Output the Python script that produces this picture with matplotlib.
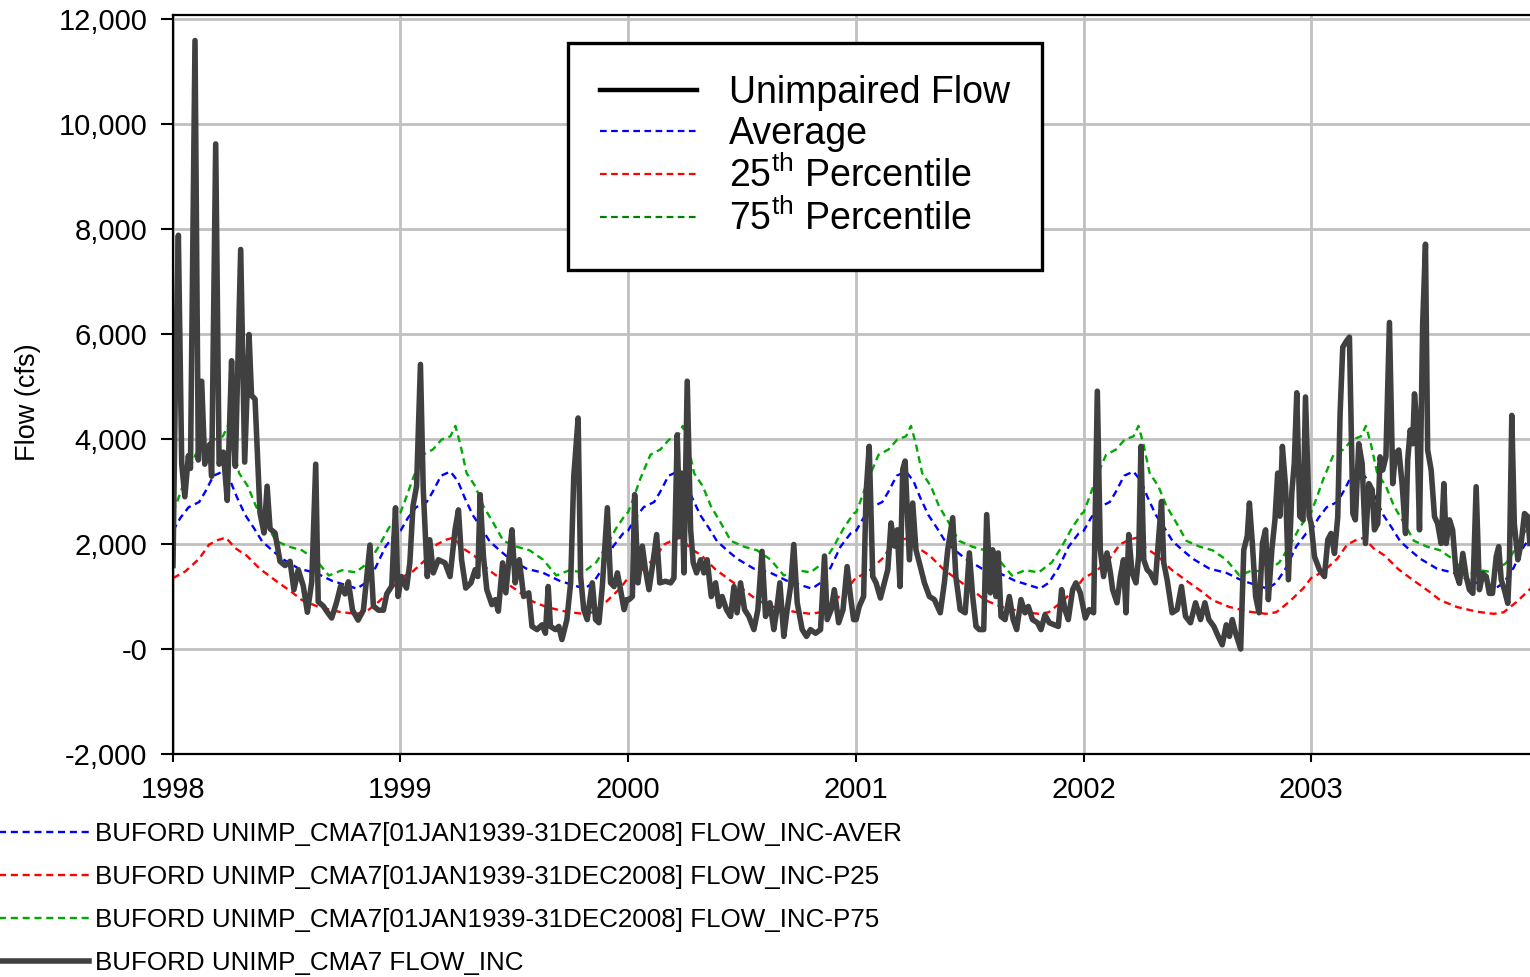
import numpy as np
import pandas as pd
import matplotlib
matplotlib.use("Agg")
import matplotlib.pyplot as plt
from matplotlib.lines import Line2D

plt.rcParams['font.family'] = ['Liberation Sans', 'DejaVu Sans']
plt.rcParams['mathtext.fontset'] = 'custom'
plt.rcParams['mathtext.rm'] = 'Liberation Sans'
plt.rcParams['mathtext.it'] = 'Liberation Sans:italic'

years = [1998, 1999, 2000, 2001, 2002, 2003]

# climatology by day of year (same every year)
aver_days = [0, 12, 25, 42, 52, 65, 80, 92, 103, 116, 130, 143, 159, 175, 202, 229, 255, 282, 295, 309, 325, 341, 357, 365]
aver_cfs = [2250, 2500, 2700, 2800, 3000, 3300, 3380, 3200, 2880, 2550, 2300, 2050, 1880, 1720, 1530, 1450, 1300, 1200, 1150, 1260, 1550, 1950, 2200, 2250]

p75_days = [0, 8, 20, 36, 52, 66, 80, 88, 96, 106, 120, 133, 149, 165, 186, 207, 229, 250, 271, 293, 314, 330, 346, 362, 365]
p75_cfs = [2600, 2850, 3250, 3700, 3800, 3990, 4050, 4250, 3900, 3350, 3100, 2720, 2400, 2060, 1950, 1880, 1700, 1400, 1500, 1460, 1650, 1950, 2300, 2580, 2600]

p25_days = [0, 20, 42, 58, 73, 85, 100, 118, 140, 165, 190, 207, 234, 266, 293, 309, 330, 352, 365]
p25_cfs = [1350, 1480, 1720, 1990, 2080, 2120, 1920, 1780, 1520, 1300, 1090, 930, 800, 710, 670, 700, 900, 1150, 1350]

# unimpaired flow, day of year -> cfs
flow_1998_days = [0, 4, 8.6, 14, 19, 24.6, 28, 35.3, 40.6, 46, 51, 59, 62, 68.5, 74, 80.8, 87, 94, 97, 100,
                  108.6, 115, 122, 126, 131.6, 139.6, 146, 151, 155.7, 163.7, 171.7, 179.8, 187.8, 194, 201,
                  209, 215.6, 222.6, 229, 233, 241, 247.7, 254.6, 262.7, 269, 276, 281.4, 288, 297, 305.5,
                  310.8, 316, 321.5, 329.6, 337.6, 343, 351, 354, 357, 361]
flow_1998_cfs = [1590, 5200, 7880, 3520, 2900, 3680, 3440, 11590, 3600, 5100, 3520, 3900, 3290, 9620, 3520,
                 3750, 2830, 5490, 4140, 3480, 7610, 3560, 5990, 4830, 4760, 2590, 2210, 3100, 2290, 2210,
                 1670, 1590, 1670, 1130, 1510, 1200, 700, 1280, 3520, 900, 820, 700, 590, 900, 1200, 1050,
                 1280, 740, 550, 740, 1360, 1980, 820, 740, 740, 1050, 1200, 2000, 2690, 1000]

flow_1999_days = [1.6, 9.7, 15, 20, 25.8, 32, 36.5, 43, 47, 52.6, 60.7, 71.4, 79.5, 87.5, 93, 98, 104.7, 113,
                  119.8, 124, 127.8, 133, 138.5, 146.6, 152, 157, 163.8, 169, 173.5, 178.8, 184, 190.6,
                  197.6, 205.7, 211, 219, 227, 232.5, 237, 240.6, 248.6, 254, 259, 267, 273, 278, 285, 289,
                  294, 299.6, 307.7, 313, 318.4, 323.8, 331.9, 337, 342.6, 348, 353, 358.7, 363]
flow_1999_cfs = [1380, 1160, 1640, 2720, 3100, 5420, 3040, 1380, 2080, 1450, 1700, 1640, 1380, 2270, 2650,
                 1700, 1160, 1260, 1510, 1380, 2940, 1770, 1130, 845, 940, 720, 1640, 1070, 1640, 2270,
                 1260, 1700, 1000, 1070, 430, 370, 460, 300, 1190, 430, 370, 430, 180, 560, 1260, 3290,
                 4400, 1380, 750, 560, 1260, 560, 500, 1190, 2690, 1260, 1190, 1450, 1130, 750, 940]

flow_2000_days = [1.6, 7, 10.7, 16, 23, 28, 33.7, 40, 46, 51, 60, 68.4, 73.7, 79, 83.4, 86, 89.8, 95, 100.5,
                  104.7, 110, 116.5, 121.8, 127, 133.6, 140.5, 146, 151, 158, 164.6, 170, 175, 180.6, 187,
                  194, 202, 208.4, 215, 220.7, 227.7, 234, 238, 243.7, 250, 255.4, 260.8, 266, 271.5,
                  279.5, 286.4, 292.8, 300.9, 308.9, 315.3, 319.6, 326, 331, 338, 345, 351.6, 357, 362]
flow_2000_cfs = [940, 1000, 2940, 1260, 1960, 1510, 1130, 1640, 2180, 1260, 1290, 1260, 1350, 4080, 2150,
                 3350, 1450, 5100, 2270, 1640, 1450, 1700, 1450, 1700, 1000, 1260, 810, 1000, 750, 620,
                 1190, 690, 1260, 750, 620, 370, 750, 1860, 620, 880, 370, 690, 1260, 240, 750, 1190, 1990,
                 880, 370, 240, 370, 300, 370, 1770, 560, 750, 1130, 500, 750, 1570, 1000, 560]

flow_2001_days = [0, 5, 12, 16, 21, 26.7, 32, 39, 45.4, 50.8, 56, 61.5, 66, 70.5, 74.8, 78.6, 85.5, 90.8, 96,
                  101.5, 109.6, 117.6, 125.6, 135, 141.6, 147, 155, 160, 167, 175, 181.7, 187, 192.4, 197.7,
                  204.7, 209.5, 215.4, 219, 224.4, 228, 232.5, 239, 245.8, 252, 257.6, 264.5, 271, 276.3,
                  283, 291, 296.6, 303, 310, 318, 324.4, 329.7, 335, 340.4, 347.4, 352.7, 359.7]
flow_2001_cfs = [560, 810, 1000, 2970, 3860, 1380, 1260, 970, 1260, 1510, 2400, 1960, 2270, 1190, 3420, 3580,
                 1700, 2780, 1890, 1640, 1260, 1000, 940, 690, 1260, 1890, 2500, 1380, 750, 690, 1830, 1000,
                 430, 370, 370, 2560, 1070, 1890, 1000, 1830, 620, 560, 1000, 560, 370, 940, 690, 810, 560,
                 500, 370, 650, 500, 460, 430, 1130, 750, 560, 1130, 1260, 1070]

flow_2002_days = [2.7, 9, 16, 22, 26.8, 32, 37.5, 43, 46.6, 53.6, 59, 64, 68, 72.4, 77.7, 84, 88.4, 92, 96.5,
                  102, 107, 115, 120.6, 125, 128.6, 134, 142, 150, 157, 163.5, 171.5, 179.6, 187.6, 194.6,
                  201, 209, 216, 222.4, 228.9, 234, 238.5, 243.9, 252, 257, 262.6, 266, 270.7, 276, 281.4,
                  287, 292, 296.4, 302, 307, 311.4, 315, 318.9, 324, 328.6, 334, 338, 342, 346.8, 352, 356,
                  361.8]
flow_2002_cfs = [590, 750, 690, 4910, 1890, 1380, 1830, 1450, 1130, 880, 1380, 1700, 690, 2180, 1450, 1260,
                 1770, 3860, 1700, 1510, 1450, 1260, 2150, 2810, 1640, 1320, 690, 750, 1190, 620, 500, 880,
                 560, 880, 560, 430, 240, 80, 460, 240, 560, 300, 0, 1890, 2150, 2780, 2020, 1000, 690, 2020,
                 2270, 940, 1890, 2460, 3350, 2530, 3860, 3100, 1320, 2970, 3540, 4880, 2530, 2460, 4800,
                 2530]

flow_2003_days = [0, 5.4, 13.4, 21.4, 26.8, 32, 37.5, 42.8, 46.5, 50.8, 57, 61.5, 67, 71, 76.5, 81.9, 87.2,
                  92.6, 98, 101.6, 107, 110.7, 115, 120, 125.7, 131, 135.4, 140.7, 146, 151.5, 155, 159, 163,
                  165.9, 169.6, 173.9, 179, 183.5, 187, 192.6, 198, 203, 208.6, 213, 216.7, 222, 227, 232.7,
                  238, 243.4, 248.8, 254, 259.5, 264.8, 270, 275.5, 281, 286, 291, 297, 301, 305, 310, 315.6,
                  318, 322, 326, 331.7, 337, 342.4, 347.7, 351]
flow_2003_cfs = [2390, 1760, 1510, 1380, 2080, 2200, 1820, 2520, 4480, 5750, 5870, 5940, 2580, 2460, 3910,
                 3530, 2010, 3150, 3030, 2270, 2390, 3660, 3410, 3660, 6220, 3150, 3720, 3790, 3150, 2200,
                 3600, 4170, 3910, 4860, 4290, 2270, 6190, 7710, 3790, 3410, 2520, 2390, 2010, 3150, 2010,
                 2460, 2270, 1440, 1250, 1820, 1380, 1130, 1060, 3090, 1130, 1440, 1380, 1060, 1060, 1760,
                 1950, 1320, 1130, 870, 1510, 4450, 2390, 1700, 2010, 2580, 2520, 2010]

flow_days = [flow_1998_days, flow_1999_days, flow_2000_days, flow_2001_days, flow_2002_days, flow_2003_days]
flow_cfs = [flow_1998_cfs, flow_1999_cfs, flow_2000_cfs, flow_2001_cfs, flow_2002_cfs, flow_2003_cfs]

ytick_vals = [-2000, 0, 2000, 4000, 6000, 8000, 10000, 12000]
ytick_labels = ['-2,000', '-0', '2,000', '4,000', '6,000', '8,000', '10,000', '12,000']

series_names = ['BUFORD UNIMP_CMA7[01JAN1939-31DEC2008] FLOW_INC-AVER',
                'BUFORD UNIMP_CMA7[01JAN1939-31DEC2008] FLOW_INC-P25',
                'BUFORD UNIMP_CMA7[01JAN1939-31DEC2008] FLOW_INC-P75',
                'BUFORD UNIMP_CMA7 FLOW_INC']
box_names = ['Unimpaired Flow', 'Average', '25$^{\\mathrm{th}}$ Percentile', '75$^{\\mathrm{th}}$ Percentile']


def to_dates(days_by_year):
    out = []
    for yr, days in zip(years, days_by_year):
        out.append(pd.Timestamp(f'{yr}-01-01') + pd.to_timedelta(np.array(days), unit='D'))
    return pd.DatetimeIndex(np.concatenate([d.values for d in out]))


def clim_series(days, vals):
    dates = to_dates([days] * len(years))
    return dates, np.tile(vals, len(years))


fig = plt.figure(figsize=(15.3, 9.77), dpi=100)
ax = fig.add_axes([173 / 1530, 1 - 754 / 977, (1538.6 - 173) / 1530, (754 - 15) / 977])

blue, red, green = '#0000ff', '#ff0000', '#00aa00'
dash = (0, (3, 2))

d, v = clim_series(aver_days, aver_cfs)
l_aver, = ax.plot(d, v, color=blue, lw=1.7, linestyle=dash)
d, v = clim_series(p25_days, p25_cfs)
l_p25, = ax.plot(d, v, color=red, lw=1.7, linestyle=dash)
d, v = clim_series(p75_days, p75_cfs)
l_p75, = ax.plot(d, v, color=green, lw=1.7, linestyle=dash)

flow_dates = to_dates(flow_days)
flow_vals = np.concatenate([np.array(f, dtype=float) for f in flow_cfs])
l_flow, = ax.plot(flow_dates, flow_vals, color='#404040', lw=4.0, solid_joinstyle='round')

ax.set_xlim(pd.Timestamp('1998-01-01'), pd.Timestamp('2004-01-01'))
ax.set_ylim(-2000, 12076)
ax.set_xticks([pd.Timestamp(f'{y}-01-01') for y in years])
ax.set_xticklabels([str(y) for y in years])
ax.set_yticks(ytick_vals)
ax.set_yticklabels(ytick_labels)
ax.grid(True, color='#c0c0c0', lw=2)
ax.set_axisbelow(True)
for s in ax.spines.values():
    s.set_linewidth(1.6)
    s.set_color('black')
ax.tick_params(axis='y', length=9, width=1.5, pad=9.5, labelsize=21)
ax.tick_params(axis='x', length=6, width=1.5, pad=10, labelsize=21)
ax.set_ylabel('Flow (cfs)', fontsize=19.5)
ax.yaxis.set_label_coords(-0.097, 0.476)

# legend box inside the plot
box_handles = [Line2D([], [], color='black', lw=3.2),
               Line2D([], [], color=blue, lw=1.6, linestyle=dash),
               Line2D([], [], color=red, lw=1.6, linestyle=dash),
               Line2D([], [], color='#008000', lw=1.6, linestyle=dash)]
leg = ax.legend(box_handles, box_names, loc='upper left',
                bbox_to_anchor=(568 / 1530, 1 - 43 / 977), bbox_transform=fig.transFigure,
                borderaxespad=0, fontsize=27, handlelength=2.6, handletextpad=0.85,
                borderpad=0.85, labelspacing=0.13, fancybox=False, framealpha=1)
leg.get_frame().set_edgecolor('black')
leg.get_frame().set_linewidth(2.4)

# series legend below the plot
fig.legend([l_aver, l_p25, l_p75, l_flow], series_names, loc='upper left',
           bbox_to_anchor=(-30 / 1530, 1 - 822 / 977), frameon=False, fontsize=18.7,
           handlelength=4.6, handletextpad=0.2, borderpad=0, borderaxespad=0, labelspacing=0.73)

fig.savefig('out.png', dpi=100)
